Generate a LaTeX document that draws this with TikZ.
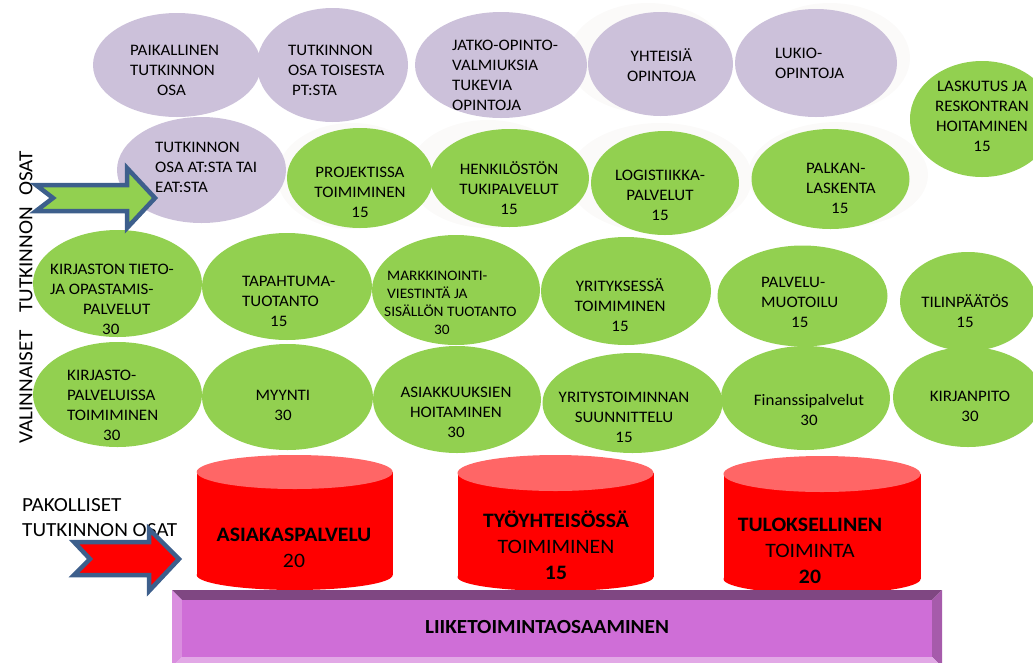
\documentclass[tikz,border=0pt]{standalone}
\usepackage{fontspec}
\setmainfont{Carlito}[FakeStretch=1.06]
\usepackage{tikz}
\definecolor{vihrea}{HTML}{92D050}
\definecolor{lila}{HTML}{CCC1DA}
\definecolor{haamu}{HTML}{FBFAF9}
\definecolor{punainen}{HTML}{FF0000}
\definecolor{vaaleapuna}{HTML}{FF6666}
\definecolor{nuolensini}{HTML}{3D5F8C}
\definecolor{violetti}{HTML}{CF6ED7}
\definecolor{violettiyla}{HTML}{7F4782}
\definecolor{violettivasen}{HTML}{DA8EDF}
\definecolor{violettioikea}{HTML}{A65BAB}
\definecolor{violettiala}{HTML}{E2A8E6}

\begin{document}
\begin{tikzpicture}[line cap=round,line join=round,x=1pt,y=-1pt,
  teksti/.style={inner sep=0pt,align=center,font=\fontsize{16}{20}\selectfont},
  vasen/.style={teksti,align=left,anchor=west},
  pieni/.style={vasen,font=\fontsize{14.5}{18}\selectfont},
  sylinteri/.style={inner sep=0pt,align=center,font=\fontsize{20.5}{26}\selectfont},
  otsikko/.style={inner sep=0pt,font=\fontsize{20}{25}\selectfont},
  nuoli/.style={draw=nuolensini,line width=4.5pt,line join=miter}]
        \clip (0,0) rectangle (1033,662);
        \fill[haamu] (648,58) ellipse (80 and 55);
        \fill[haamu] (830,58) ellipse (80 and 55);
        \fill[haamu] (352,176) ellipse (75 and 53);
        \fill[haamu] (488,174) ellipse (80 and 54);
        \fill[haamu] (660,178) ellipse (92 and 55);
        \fill[haamu] (838,175) ellipse (90 and 53);
        \fill[lila] (177,65) ellipse (84 and 52);
        \fill[lila] (332.5,65) ellipse (75.5 and 57);
        \fill[lila] (501,65) ellipse (86 and 53);
        \fill[lila] (660.5,64) ellipse (72.5 and 52);
        \fill[lila] (816,63) ellipse (81 and 54);
        \fill[vihrea] (982,119) ellipse (72 and 58);
        \fill[lila] (201.5,170) ellipse (84.5 and 53);
        \fill[vihrea] (360,178) ellipse (73 and 50);
        \fill[vihrea] (509.5,178) ellipse (79.5 and 49);
        \fill[vihrea] (665,183) ellipse (74 and 52);
        \fill[vihrea] (830.5,179) ellipse (79 and 50);
        \fill[vihrea] (117.5,283.5) ellipse (84.5 and 53.5);
        \fill[vihrea] (287,286.5) ellipse (85 and 53.5);
        \fill[vihrea] (456,290) ellipse (84 and 55);
        \fill[vihrea] (626,291) ellipse (85 and 54);
        \fill[vihrea] (802.5,296) ellipse (85 and 50.5);
        \fill[vihrea] (968,301.5) ellipse (68 and 49.5);
        \fill[vihrea] (117.5,394.5) ellipse (84.5 and 52.5);
        \fill[vihrea] (287.5,397) ellipse (85.5 and 53);
        \fill[vihrea] (457,399.5) ellipse (84 and 53.5);
        \fill[vihrea] (632.5,403) ellipse (90 and 50);
        \fill[vihrea] (805.5,398) ellipse (84.5 and 52);
        \fill[vihrea] (968,397) ellipse (75 and 50);
        \node[vasen] (paikallinen) at (130,70) {PAIKALLINEN\\TUTKINNON\\\hspace{27pt}OSA};
        \node[vasen] (toisestapt) at (288,70) {TUTKINNON\\OSA TOISESTA\\\hspace{4pt}PT:STA};
        \node[vasen] (jatko) at (452,75) {JATKO-OPINTO-\\VALMIUKSIA\\TUKEVIA\\OPINTOJA};
        \node[teksti] (yhteisia) at (661.5,65) {YHTEISIÄ\\OPINTOJA};
        \node[vasen] (lukio) at (775,63.5) {LUKIO-\\OPINTOJA};
        \node[teksti] (laskutus) at (982,116) {LASKUTUS JA\\RESKONTRAN\\HOITAMINEN\\15};
        \node[vasen] (atsta) at (155,167) {TUTKINNON\\OSA AT:STA TAI\\EAT:STA};
        \node[teksti] (projektissa) at (360,192.5) {PROJEKTISSA\\TOIMIMINEN\\15};
        \node[teksti] (henkilosto) at (509,188) {HENKILÖSTÖN\\TUKIPALVELUT\\15};
        \node[teksti] (logistiikka) at (660,195) {LOGISTIIKKA-\\PALVELUT\\15};
        \node[vasen] (palkka) at (806,188) {PALKAN-\\LASKENTA\\\hspace{25pt}15};
        \node[vasen] (kirjastotieto) at (50,299) {KIRJASTON TIETO-\\JA OPASTAMIS-\\\hspace{33pt}PALVELUT\\\hspace{52pt}30};
        \node[vasen] (tapahtuma) at (242,301.5) {TAPAHTUMA-\\TUOTANTO\\\hspace{28pt}15};
        \node[pieni] (markkinointi) at (384,302.5) {\hspace{3pt}MARKKINOINTI-\\\hspace{3pt}VIESTINTÄ JA\\SISÄLLÖN TUOTANTO\\\hspace{50pt}30};
        \node[teksti] (yrityksessa) at (620,305.5) {YRITYKSESSÄ\\TOIMIMINEN\\15};
        \node[vasen] (palvelumuotoilu) at (761,302) {PALVELU-\\MUOTOILU\\\hspace{30pt}15};
        \node[teksti] (tilinpaatos) at (965,311) {TILINPÄÄTÖS\\15};
        \node[vasen] (kirjastopalvelu) at (67,405.5) {KIRJASTO-\\PALVELUISSA\\TOIMIMINEN\\\hspace{36pt}30};
        \node[teksti] (myynti) at (283,405.5) {MYYNTI\\30};
        \node[teksti] (asiakkuudet) at (456,412) {ASIAKKUUKSIEN\\HOITAMINEN\\30};
        \node[teksti] (suunnittelu) at (624,417) {YRITYSTOIMINNAN\\SUUNNITTELU\\15};
        \node[teksti] (finanssi) at (809,410) {Finanssipalvelut\\30};
        \node[teksti] (kirjanpito) at (970,406) {KIRJANPITO\\30};
        \fill[punainen] (196.7,472) rectangle (392.7,575);
        \fill[punainen] (294.7,575) ellipse (98 and 15);
        \fill[vaaleapuna] (294.7,472) ellipse (98 and 17);
        \fill[punainen] (457.5,473) rectangle (653.5,577);
        \fill[punainen] (555.5,577) ellipse (98 and 14);
        \fill[vaaleapuna] (555.5,473) ellipse (98 and 18);
        \fill[punainen] (723.5,474) rectangle (920.5,579);
        \fill[punainen] (822,579) ellipse (98.5 and 15);
        \fill[vaaleapuna] (822,474) ellipse (98.5 and 18);
        \node[sylinteri] (asiakaspalvelu) at (294,548) {\textbf{ASIAKASPALVELU}\\20};
        \node[sylinteri] (tyoyhteiso) at (556,545) {\textbf{TYÖYHTEISÖSSÄ}\\TOIMIMINEN\\\textbf{15}};
        \node[sylinteri] (tuloksellinen) at (810,550.5) {\textbf{TULOKSELLINEN}\\TOIMINTA\\\textbf{20}};
        \fill[violettiyla] (172,590) -- (942,590) -- (932,600) -- (182,600) -- cycle;
        \fill[violettivasen] (172,590) -- (182,600) -- (182,657) -- (172,667) -- cycle;
        \fill[violettioikea] (942,590) -- (932,600) -- (932,657) -- (942,667) -- cycle;
        \fill[violettiala] (172,667) -- (182,657) -- (932,657) -- (942,667) -- cycle;
        \fill[violetti] (182,600) rectangle (932,657);
        \node[inner sep=0pt,font=\bfseries\fontsize{20}{24}\selectfont] (liiketoiminta) at (547,627) {LIIKETOIMINTAOSAAMINEN};
        \node[otsikko,rotate=90] (valinnaiset) at (26,297.5) {VALINNAISET\hspace{18pt}TUTKINNON\hspace{11pt}OSAT};
        \node[otsikko,align=left,anchor=west] (pakolliset) at (22,517.5) {PAKOLLISET\\TUTKINNON OSAT};
        \draw[nuoli,fill=vihrea] (36,185) -- (127,185) -- (127,168) -- (155,198) -- (127,228) -- (127,211) -- (36,211) -- (53,198) -- cycle;
        \draw[nuoli,fill=punainen] (74,542) -- (149,542) -- (149,529) -- (179,559) -- (149,591) -- (149,575) -- (74,575) -- (90,559) -- cycle;
    \end{tikzpicture}
\end{document}
